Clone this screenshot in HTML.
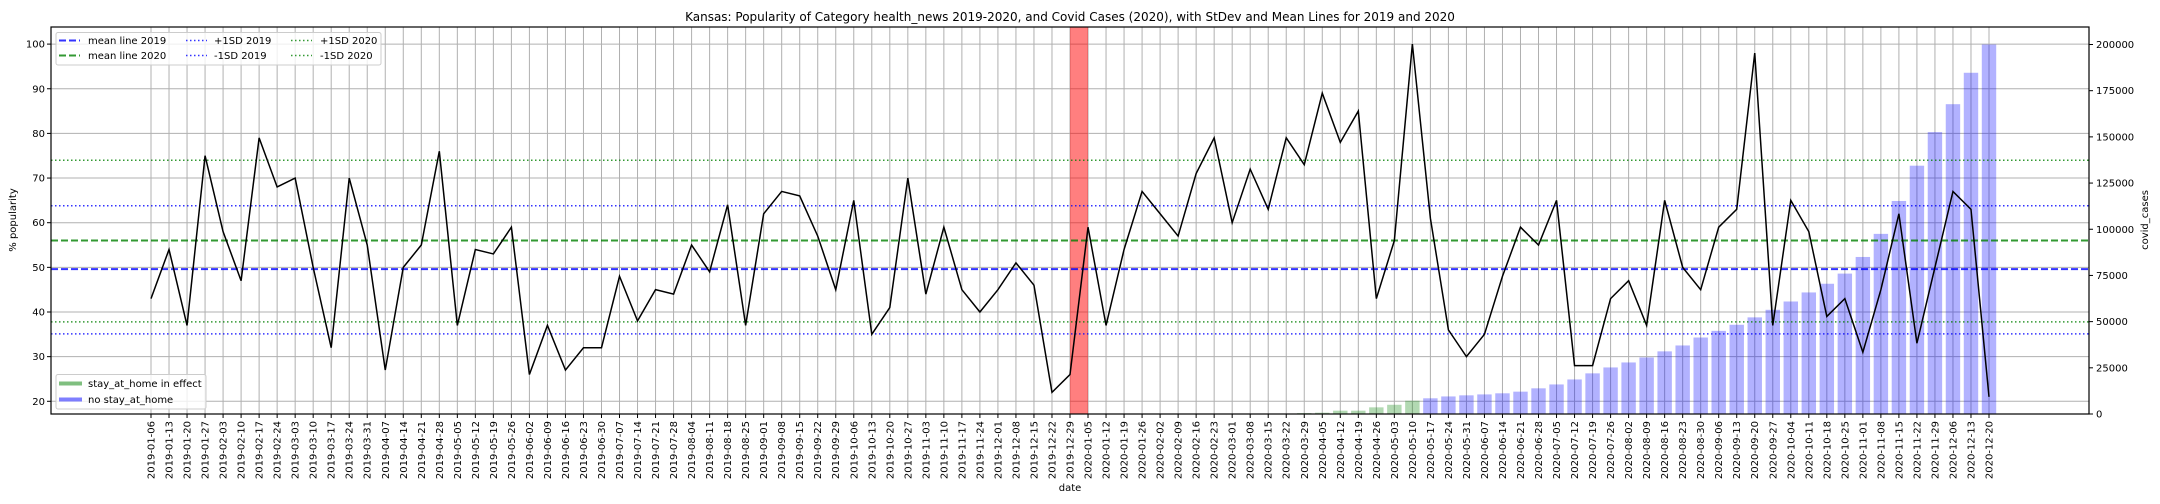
<!DOCTYPE html>
<html><head><meta charset="utf-8"><title>Kansas health_news popularity and Covid cases, 2019–2020</title>
<style>
html,body{margin:0;padding:0;background:#fff;}
svg{display:block;font-family:"DejaVu Sans","Liberation Sans",sans-serif;}
</style></head>
<body>
<svg id="chart" xmlns="http://www.w3.org/2000/svg" width="2160" height="504" viewBox="0 0 2160 504">
<text x="1070" y="21" font-size="12" text-anchor="middle">Kansas: Popularity of Category health_news 2019-2020, and Covid Cases (2020), with StDev and Mean Lines for 2019 and 2020</text>
<text x="1070" y="491" font-size="10" text-anchor="middle">date</text>
<text transform="translate(16,220) rotate(-90)" font-size="10" text-anchor="middle">% popularity</text>
<text transform="translate(2148,220) rotate(-90)" font-size="10" text-anchor="middle">covid_cases</text>
<g id="grid"></g>
<g id="bars"></g>
<g id="span"></g>
<g id="hlines"></g>
<g id="series"></g>
<g id="axes"></g>
<g id="legends"></g>
</svg>
<script>
const popularity2019 = [43,54,37,75,58,47,79,68,70,50,32,70,55,27,50,55,76,37,54,53,59,26,37,27,32,32,48,38,45,44,55,49,64,37,62,67,66,57,45,65,35,41,70,44,59,45,40,45,51,46,22,26];
const popularity2020 = [59,37,54,67,62,57,71,79,60,72,63,79,73,89,78,85,43,56,100,61,36,30,35,48,59,55,65,28,28,43,47,37,65,50,45,59,63,98,37,65,58,39,43,31,45,62,33,50,67,63,21];
const covid2020 = [0,0,0,0,0,0,0,0,0,0,10,60,500,700,1800,1800,3600,5000,7200,8500,9500,10100,10600,11200,12100,13900,16000,18700,22000,25200,27900,30600,33900,37100,41400,45000,48300,52300,56400,60900,65800,70500,76000,85000,97500,115300,134400,152600,167700,184700,200000];
const stayAtHome2020 = [0,0,0,0,0,0,0,0,0,0,1,1,1,1,1,1,1,1,1,0,0,0,0,0,0,0,0,0,0,0,0,0,0,0,0,0,0,0,0,0,0,0,0,0,0,0,0,0,0,0,0];
const meanLines = [49.6,56.0];
const sdUpper = [63.8,74.0];
const sdLower = [35.1,37.8];
const leftTicks = [20,30,40,50,60,70,80,90,100];
const rightTicks = [0,25000,50000,75000,100000,125000,150000,175000,200000];
const redSpanIndex = [51,52];

const NS="http://www.w3.org/2000/svg";
const L=51,R=2089,T=27,B=414;
function dates(){
  const out=[];
  let d=new Date(Date.UTC(2019,0,6));
  for(let i=0;i<popularity2019.length+popularity2020.length;i++){
    out.push(d.toISOString().slice(0,10));
    d=new Date(d.getTime()+7*86400000);
  }
  return out;
}
const categories=dates();
const N=categories.length;
const step=(1989-151)/102;
function xs(i){return 151+i*step;}
function yl(v){return 401.3-(v-20)*4.465;}
function yr(v){return 414-v*(414-44.5)/200000;}
function mk(tag,attrs,parent){const e=document.createElementNS(NS,tag);for(const k in attrs)e.setAttribute(k,attrs[k]);parent.appendChild(e);return e;}

const grid=document.getElementById('grid');
categories.forEach((c,i)=>{
  const g=mk('line',{x1:xs(i),x2:xs(i),y1:T,y2:B,stroke:'#b0b0b0','stroke-width':1},grid);
  
  
});
leftTicks.forEach(v=>{
  const g=mk('line',{x1:L,x2:R,y1:yl(v),y2:yl(v),stroke:'#b0b0b0','stroke-width':1},grid);
  
  
});

const bars=document.getElementById('bars');
const bw=0.8*step;
covid2020.forEach((v,j)=>{
  const i=popularity2019.length+j;
  if(v<=0)return;
  const col=stayAtHome2020[j]?'rgba(0,128,0,0.3)':'rgba(0,0,255,0.3)';
  const r=mk('rect',{x:xs(i)-bw/2,y:yr(v),width:bw,height:yr(0)-yr(v),fill:col},bars);
  
  
});

const span=document.getElementById('span');
const sp=mk('rect',{x:xs(redSpanIndex[0]),y:T,width:xs(redSpanIndex[1])-xs(redSpanIndex[0]),height:B-T,fill:'#ff0000','fill-opacity':0.5},span);



const hl=document.getElementById('hlines');
const cols=['#0000ff','#008000'];
const yrs=['2019','2020'];
[0,1].forEach(k=>{
  const m=mk('line',{x1:L,x2:R,y1:yl(meanLines[k]),y2:yl(meanLines[k]),stroke:cols[k],'stroke-opacity':0.8,'stroke-width':2,'stroke-dasharray':'7,3'},hl);
  
  
  const u=mk('line',{x1:L,x2:R,y1:yl(sdUpper[k]),y2:yl(sdUpper[k]),stroke:cols[k],'stroke-opacity':0.8,'stroke-width':1.5,'stroke-dasharray':'1.5,2.5'},hl);
  
  
  const lo=mk('line',{x1:L,x2:R,y1:yl(sdLower[k]),y2:yl(sdLower[k]),stroke:cols[k],'stroke-opacity':0.8,'stroke-width':1.5,'stroke-dasharray':'1.5,2.5'},hl);
  
  
});

const series=document.getElementById('series');
const all=popularity2019.concat(popularity2020);
const pl=mk('polyline',{points:all.map((v,i)=>xs(i)+','+yl(v)).join(' '),fill:'none',stroke:'#000','stroke-width':1.5},series);



const axes=document.getElementById('axes');
const fr=mk('rect',{x:L,y:T,width:R-L,height:B-T,fill:'none',stroke:'#000','stroke-width':1.2},axes);


leftTicks.forEach(v=>{
  mk('line',{x1:L-4,x2:L,y1:yl(v),y2:yl(v),stroke:'#000'},axes);
  const t=mk('text',{x:L-6,y:yl(v)+3.5,'font-size':10,'text-anchor':'end'},axes);
  t.textContent=v;
  
  
});
rightTicks.forEach(v=>{
  mk('line',{x1:R,x2:R+4,y1:yr(v),y2:yr(v),stroke:'#000'},axes);
  const t=mk('text',{x:R+7,y:yr(v)+3.5,'font-size':10},axes);
  t.textContent=v;
  
  
});
categories.forEach((c,i)=>{
  mk('line',{x1:xs(i),x2:xs(i),y1:B,y2:B+4,stroke:'#000'},axes);
  const t=mk('text',{transform:'translate('+(xs(i)+3.5)+','+(B+7)+') rotate(-90)','font-size':10,'text-anchor':'end'},axes);
  t.textContent=c;
  
  
});

const lg=document.getElementById('legends');
const box1=mk('rect',{x:56,y:32.5,width:325,height:32.5,rx:2,fill:'#fff','fill-opacity':0.8,stroke:'#ccc'},lg);


const entries=[
 [59,40.5,'mean line 2019','#0000ff','7,3',2,88],
 [59,55.5,'mean line 2020','#008000','7,3',2,88],
 [186,40.5,'+1SD 2019','#0000ff','1.5,2.5',1.5,214],
 [186,55.5,'-1SD 2019','#0000ff','1.5,2.5',1.5,214],
 [291,40.5,'+1SD 2020','#008000','1.5,2.5',1.5,320],
 [291,55.5,'-1SD 2020','#008000','1.5,2.5',1.5,320]];
entries.forEach(e=>{
  const g=mk('g',{},lg);
  
  
  mk('line',{x1:e[0],x2:e[0]+21,y1:e[1],y2:e[1],stroke:e[3],'stroke-opacity':0.8,'stroke-width':e[5],'stroke-dasharray':e[4]},g);
  const t=mk('text',{x:e[6],y:e[1]+3.5,'font-size':10},g);t.textContent=e[2];
});
const box2=mk('rect',{x:56,y:374.5,width:150,height:34.5,rx:2,fill:'#fff','fill-opacity':0.8,stroke:'#ccc'},lg);


[[383.5,'stay_at_home in effect','rgba(0,128,0,0.5)'],[399.5,'no stay_at_home','rgba(0,0,255,0.5)']].forEach(e=>{
  const g=mk('g',{},lg);
  
  
  mk('line',{x1:59,x2:82,y1:e[0],y2:e[0],stroke:e[2],'stroke-width':4},g);
  const t=mk('text',{x:88,y:e[0]+3.5,'font-size':10},g);t.textContent=e[1];
});
</script>
</body></html>
